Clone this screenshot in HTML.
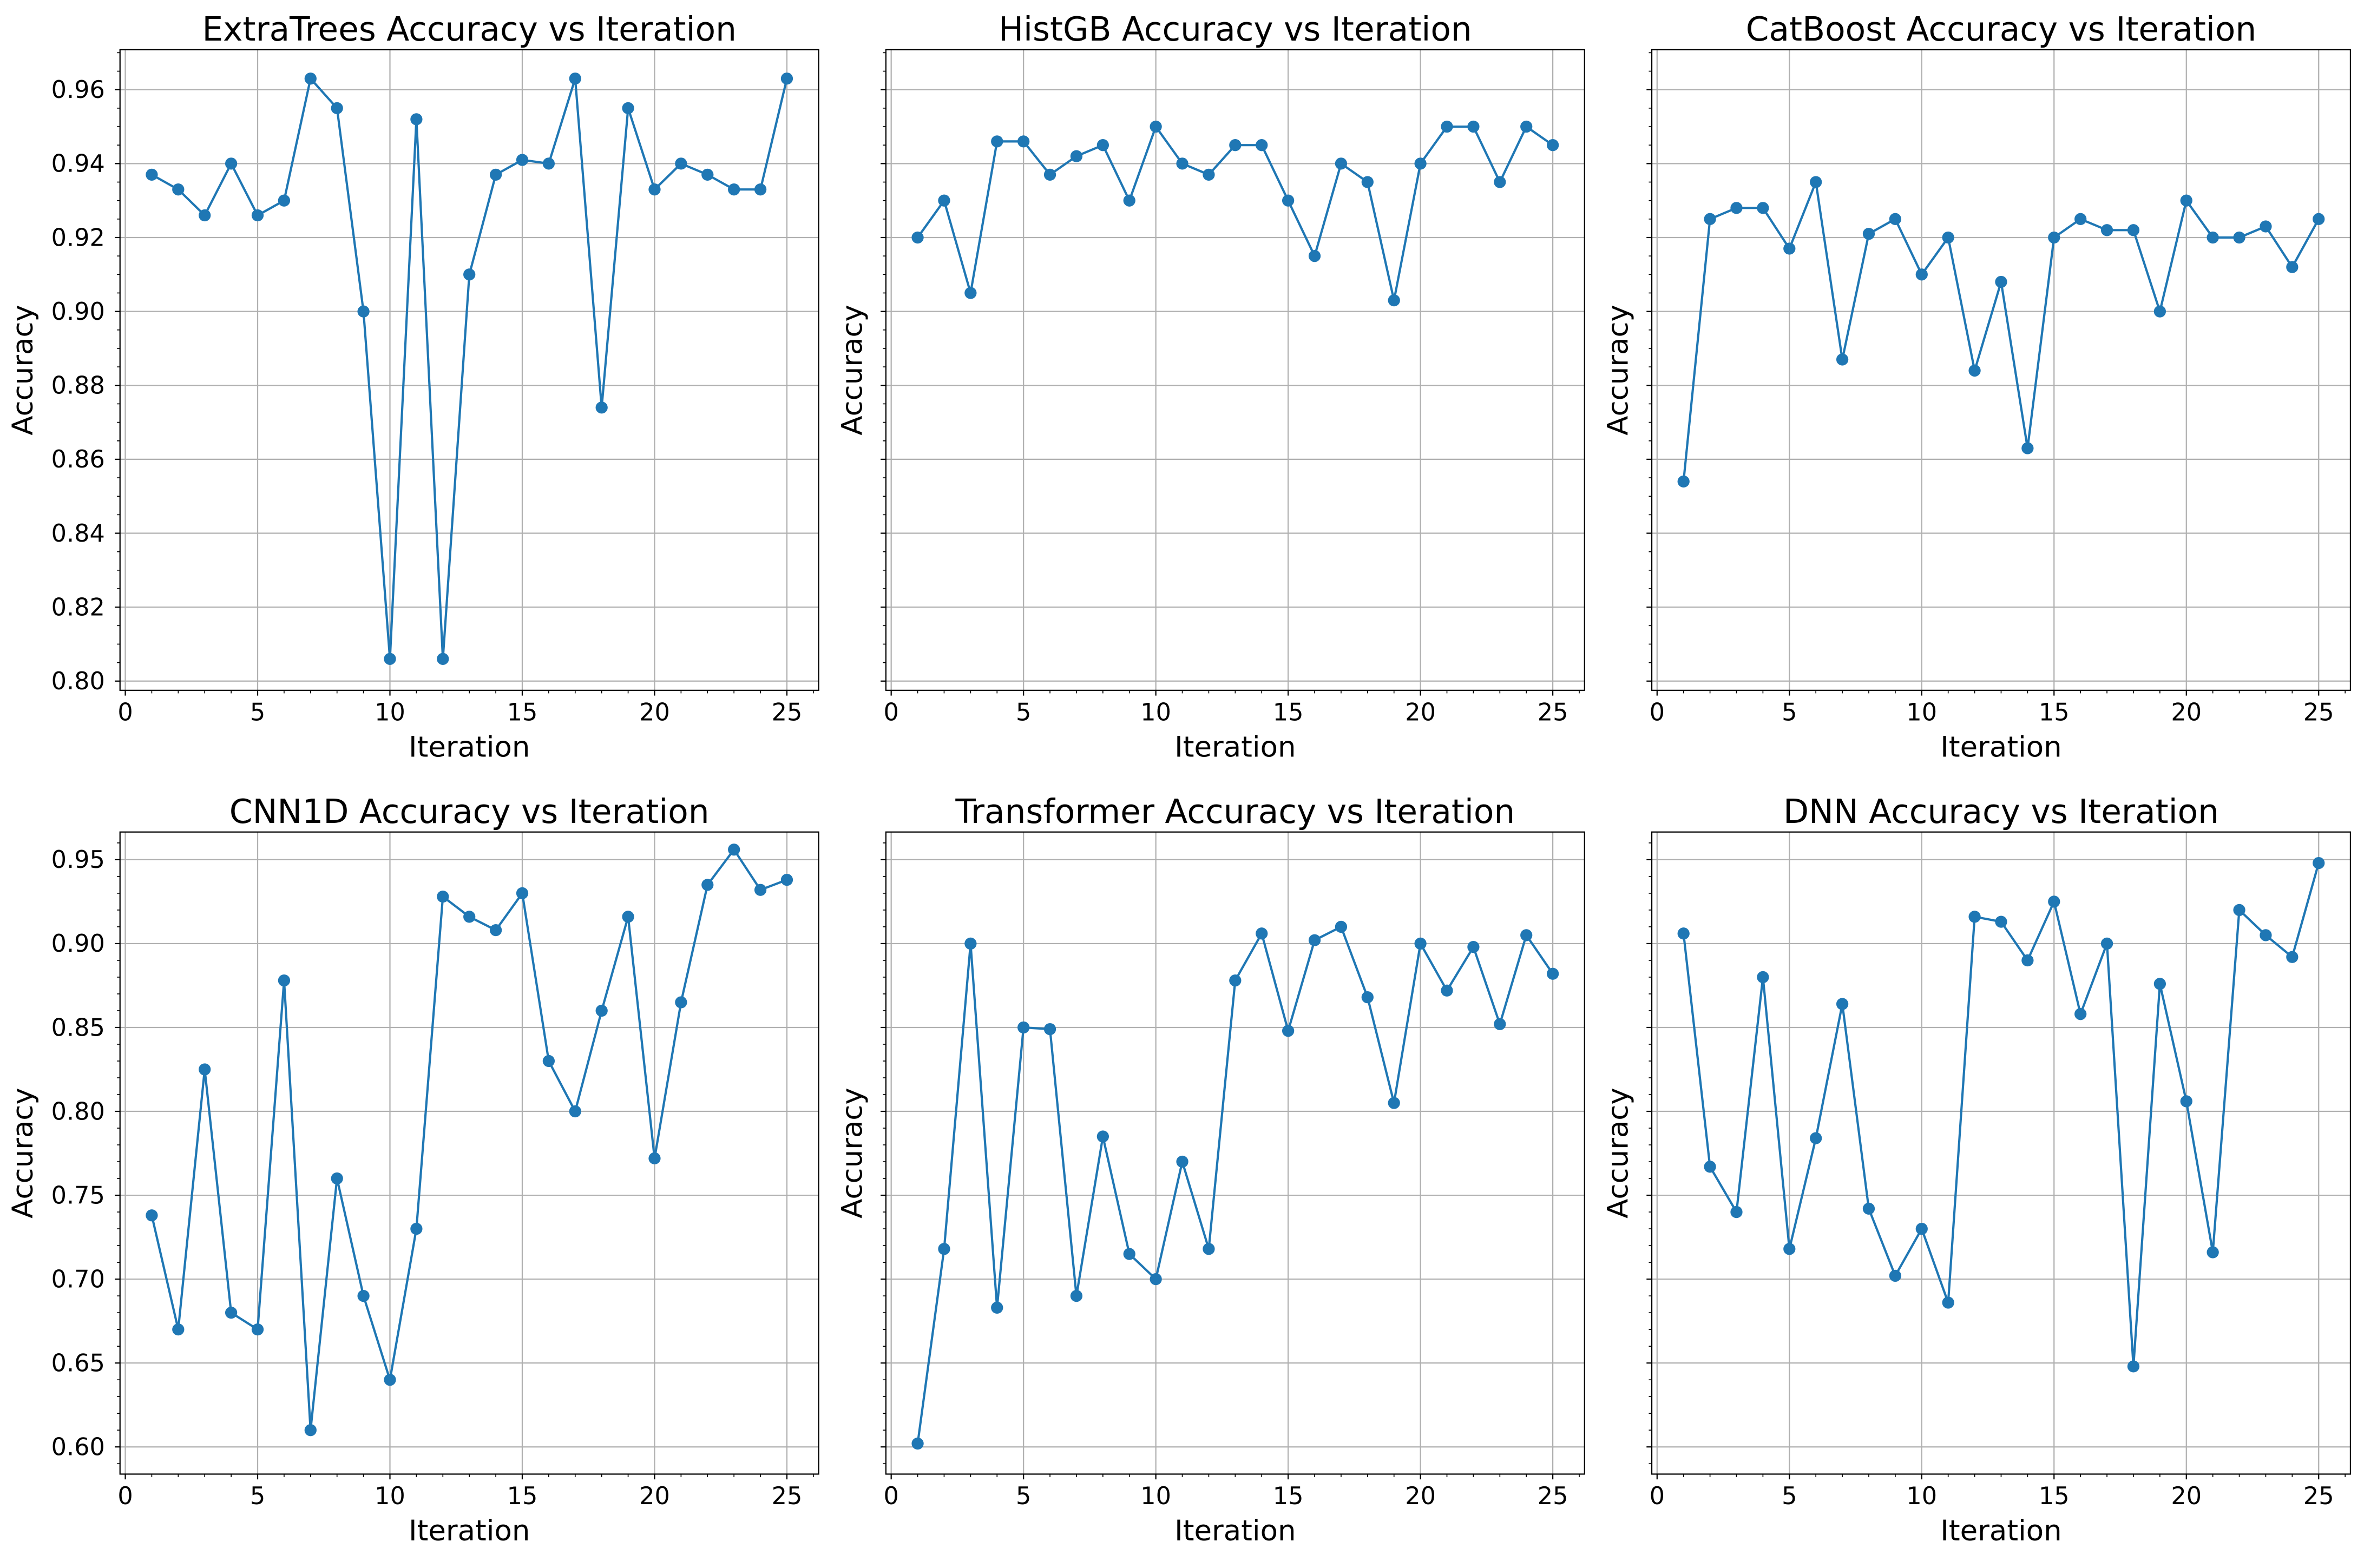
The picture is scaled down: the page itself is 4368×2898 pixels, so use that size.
<!DOCTYPE html>
<html><head><meta charset="utf-8"><style>html,body{margin:0;padding:0;background:#fff}svg{display:block}text{font-family:"DejaVu Sans","Liberation Sans",sans-serif;fill:#000}</style></head>
<body>
<svg id="fig" xmlns="http://www.w3.org/2000/svg" width="4368" height="2898" viewBox="0 0 1568 1040.3"></svg>
<script>
const iterations = Array.from({length:25},(_,i)=>i+1);
const titles = ["ExtraTrees","HistGB","CatBoost","CNN1D","Transformer","DNN"];
const extraTrees = [0.937,0.933,0.926,0.940,0.926,0.930,0.963,0.955,0.900,0.806,0.952,0.806,0.910,0.937,0.941,0.940,0.963,0.874,0.955,0.933,0.940,0.937,0.933,0.933,0.963];
const histGB = [0.920,0.930,0.905,0.946,0.946,0.937,0.942,0.945,0.930,0.950,0.940,0.937,0.945,0.945,0.930,0.915,0.940,0.935,0.903,0.940,0.950,0.950,0.935,0.950,0.945];
const catBoost = [0.854,0.925,0.928,0.928,0.917,0.935,0.887,0.921,0.925,0.910,0.920,0.884,0.908,0.863,0.920,0.925,0.922,0.922,0.900,0.930,0.920,0.920,0.923,0.912,0.925];
const cnn1d = [0.738,0.670,0.825,0.680,0.670,0.878,0.610,0.760,0.690,0.640,0.730,0.928,0.916,0.908,0.930,0.830,0.800,0.860,0.916,0.772,0.865,0.935,0.956,0.932,0.938];
const transformer = [0.602,0.718,0.900,0.683,0.850,0.849,0.690,0.785,0.715,0.700,0.770,0.718,0.878,0.906,0.848,0.902,0.910,0.868,0.805,0.900,0.872,0.898,0.852,0.905,0.882];
const dnn = [0.906,0.767,0.740,0.880,0.718,0.784,0.864,0.742,0.702,0.730,0.686,0.916,0.913,0.890,0.925,0.858,0.900,0.648,0.876,0.806,0.716,0.920,0.905,0.892,0.948];
const xTicks = [0,5,10,15,20,25];
const yTicksTop = [0.80,0.82,0.84,0.86,0.88,0.90,0.92,0.94,0.96];
const yTicksBottom = [0.60,0.65,0.70,0.75,0.80,0.85,0.90,0.95];
const series = [extraTrees,histGB,catBoost,cnn1d,transformer,dnn];

const NS="http://www.w3.org/2000/svg";
const svg=document.getElementById('fig');
function mk(tag,attrs,parent){const e=document.createElementNS(NS,tag);for(const k in attrs)e.setAttribute(k,attrs[k]);parent.appendChild(e);return e;}
const colsX=[[79.6,543],[587.6,1051],[1095.6,1559]];
const rowsY=[[33,458],[552,978]];
const yDom=[[0.7975,0.9708],[0.5838,0.9665]];
const xDom=[-0.2,26.2];
const yMinor=[0.005,0.01];
for(let p=0;p<6;p++){
  const r=Math.floor(p/3),c=p%3;
  const [L,R]=colsX[c],[T,B]=rowsY[r];
  const g=mk('g',{},svg);
  
  
  const sx=v=>L+(v-xDom[0])/(xDom[1]-xDom[0])*(R-L);
  const sy=v=>B-(v-yDom[r][0])/(yDom[r][1]-yDom[r][0])*(B-T);
  const yt=r===0?yTicksTop:yTicksBottom;
  xTicks.forEach(v=>{mk('line',{x1:sx(v),x2:sx(v),y1:T,y2:B,stroke:'#b0b0b0','stroke-width':0.8},g);});
  yt.forEach(v=>{mk('line',{x1:L,x2:R,y1:sy(v),y2:sy(v),stroke:'#b0b0b0','stroke-width':0.8},g);});
  for(let v=0;v<=26;v++){if(v%5)mk('line',{x1:sx(v),x2:sx(v),y1:B,y2:B+2,stroke:'#000','stroke-width':0.6},g);}
  for(let k=0;;k++){const v=Math.round((yDom[r][0]+k*0.001)*1000)/1000;if(v>yDom[r][1])break;const m=Math.round(v*1000);const st=Math.round(yMinor[r]*1000);const maj=r===0?20:50;if(m%st===0&&m%maj!==0)mk('line',{x1:L-2,x2:L,y1:sy(v),y2:sy(v),stroke:'#000','stroke-width':0.6},g);}
  xTicks.forEach(v=>{mk('line',{x1:sx(v),x2:sx(v),y1:B,y2:B+3.5,stroke:'#000','stroke-width':0.8},g);
    const t=mk('text',{x:sx(v),y:B+20,'text-anchor':'middle','font-size':16},g);t.textContent=v;
    });
  yt.forEach(v=>{mk('line',{x1:L-3.5,x2:L,y1:sy(v),y2:sy(v),stroke:'#000','stroke-width':0.8},g);
    if(c===0){const t=mk('text',{x:L-10,y:sy(v)+5.5,'text-anchor':'end','font-size':16},g);t.textContent=v.toFixed(2);
      }});
  mk('rect',{x:L,y:T,width:R-L,height:B-T,fill:'none',stroke:'#000','stroke-width':0.8},g);
  const d=series[p].map((v,i)=>(i?'L':'M')+sx(iterations[i]).toFixed(2)+','+sy(v).toFixed(2)).join('');
  const pl=mk('path',{d:d,fill:'none',stroke:'#1f77b4','stroke-width':1.5},g);
  
  series[p].forEach((v,i)=>{const ci=mk('circle',{cx:sx(iterations[i]),cy:sy(v),r:4,fill:'#1f77b4'},g);
    });
  const tt=mk('text',{x:(L+R)/2,y:T-6,'text-anchor':'middle','font-size':22},g);tt.textContent=titles[p]+' Accuracy vs Iteration';
  
  const xl=mk('text',{x:(L+R)/2,y:B+44,'text-anchor':'middle','font-size':19},g);xl.textContent='Iteration';
  
  const yx=c===0?L-58:L-16;
  const yl=mk('text',{x:yx,y:(T+B)/2,'text-anchor':'middle','font-size':19,transform:`rotate(-90 ${yx} ${(T+B)/2})`},g);yl.textContent='Accuracy';
  
}
</script>
</body></html>
